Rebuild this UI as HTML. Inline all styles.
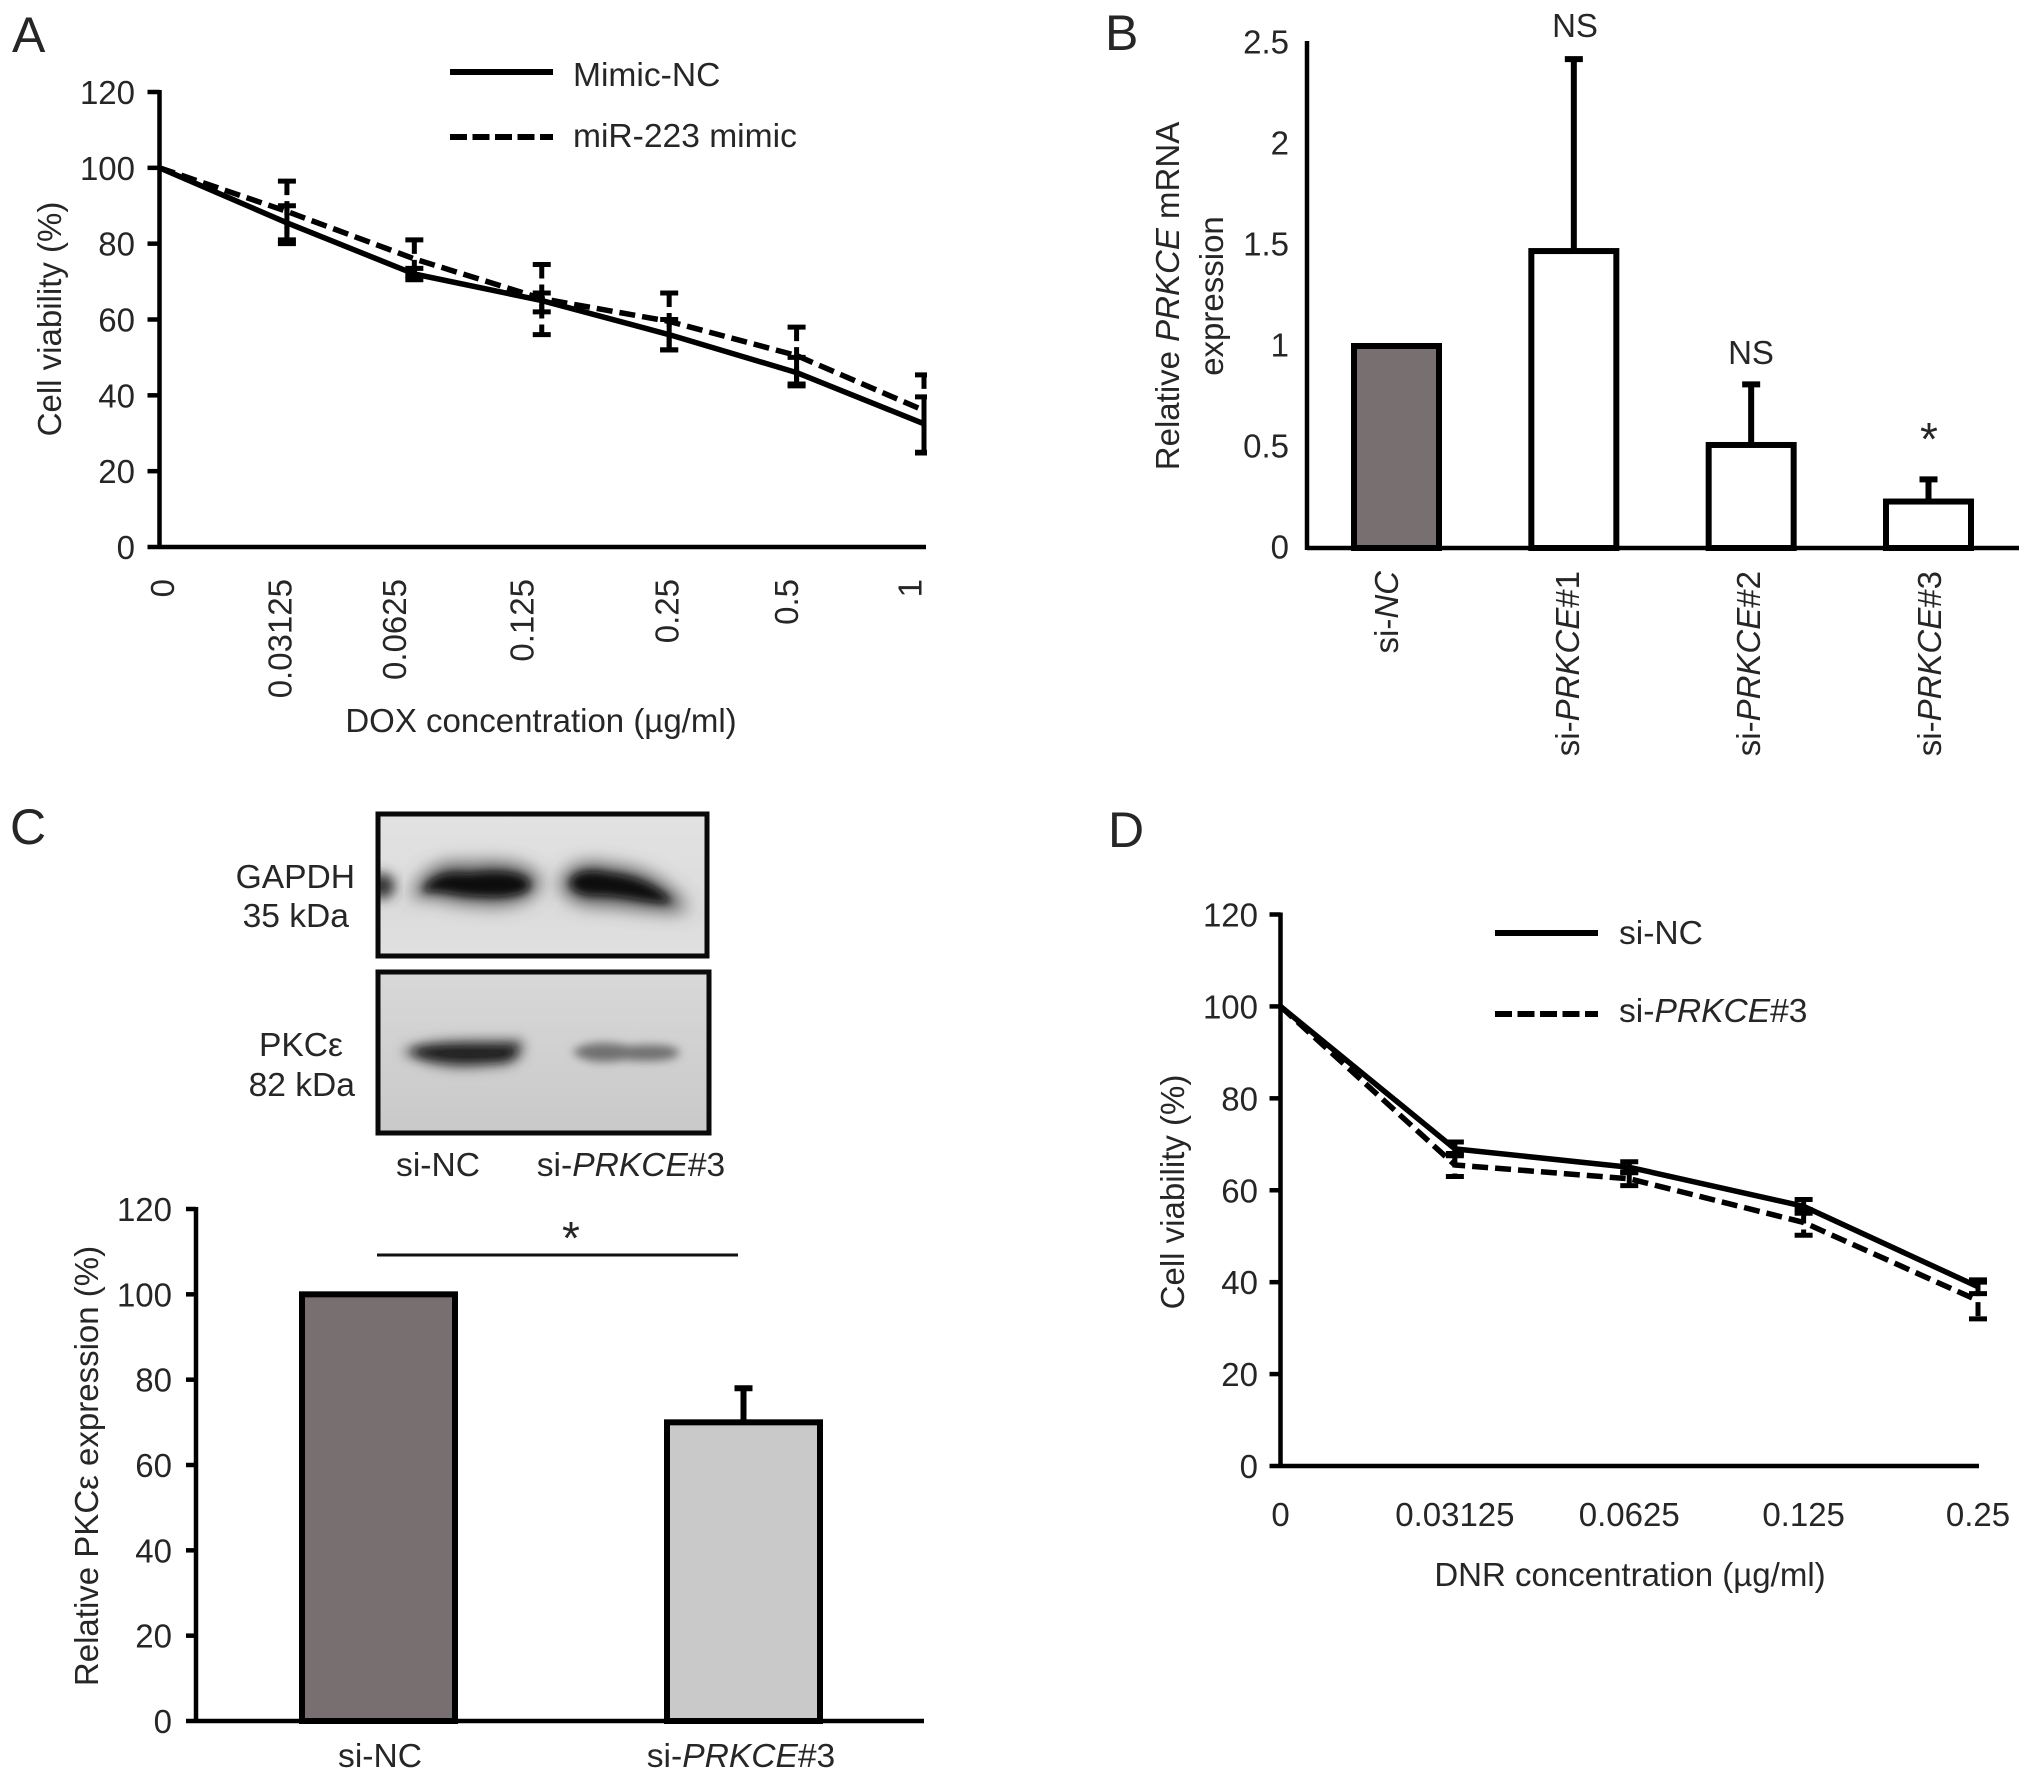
<!DOCTYPE html>
<html lang="en">
<head>
<meta charset="utf-8">
<title>Cell viability and PRKCE expression figure</title>
<style>
html,body{margin:0;padding:0;background:#fff;}
svg{display:block;}
text{font-family:"Liberation Sans",sans-serif;fill:#262626;font-size:33px;}
.letter{font-size:50px;}
.wide{font-size:33.6px;}
.star{font-size:46px;}
</style>
</head>
<body>
<svg id="figure" xmlns="http://www.w3.org/2000/svg" width="2032" height="1781" viewBox="0 0 2032 1781">
  <defs>
    <clipPath id="clip-a"><rect x="100" y="60" width="827" height="500"/></clipPath>
    <filter id="blur-a" x="-30%" y="-80%" width="160%" height="260%"><feGaussianBlur stdDeviation="6"/></filter>
    <filter id="blur-h" x="-30%" y="-100%" width="160%" height="300%"><feGaussianBlur stdDeviation="9"/></filter>
    <filter id="blur-b" x="-30%" y="-80%" width="160%" height="260%"><feGaussianBlur stdDeviation="4.5"/></filter>
    <linearGradient id="blot-top-bg" x1="0" y1="0" x2="0" y2="1"><stop offset="0" stop-color="#e2e2e2"/><stop offset="0.7" stop-color="#dcdcdc"/><stop offset="1" stop-color="#e0e0e0"/></linearGradient>
    <linearGradient id="blot-bottom-bg" x1="0" y1="0" x2="0" y2="1"><stop offset="0" stop-color="#d8d8d8"/><stop offset="1" stop-color="#c9c9c9"/></linearGradient>
    <clipPath id="clip-blot-top"><rect x="378" y="814" width="329" height="142"/></clipPath>
    <clipPath id="clip-blot-bottom"><rect x="378" y="972" width="331" height="161"/></clipPath>
  </defs>

  <text class="letter" x="12" y="52">A</text>
  <text class="letter" x="1105" y="50">B</text>
  <text class="letter" x="10" y="844">C</text>
  <text class="letter" x="1108" y="847">D</text>

  <!-- Panel A -->
  <g id="panel-a"></g>
  <text transform="translate(61,319) rotate(-90)" text-anchor="middle">Cell viability (%)</text>
  <text x="541" y="732" text-anchor="middle">DOX concentration (µg/ml)</text>
  <g>
    <line x1="450" x2="553" y1="72" y2="72" stroke="#000" stroke-width="6"/>
    <text class="wide" x="573" y="86">Mimic-NC</text>
    <line x1="450" x2="553" y1="137" y2="137" stroke="#000" stroke-width="6" stroke-dasharray="17 5.5"/>
    <text class="wide" x="573" y="147">miR-223 mimic</text>
  </g>

  <!-- Panel B -->
  <g id="panel-b"></g>
  <text transform="translate(1179,296) rotate(-90)" text-anchor="middle">Relative <tspan font-style="italic">PRKCE</tspan> mRNA</text>
  <text transform="translate(1223,296) rotate(-90)" text-anchor="middle">expression</text>
  <text x="1575" y="37" text-anchor="middle">NS</text>
  <text x="1751" y="364" text-anchor="middle">NS</text>
  <text class="star" x="1929" y="455" text-anchor="middle">*</text>

  <!-- Panel C blots -->
  <g>
    <rect x="378" y="814" width="329" height="142" fill="url(#blot-top-bg)"/>
    <g clip-path="url(#clip-blot-top)">
      <ellipse cx="382" cy="886" rx="13" ry="13" filter="url(#blur-a)" fill="#333"/>
      <path d="M410 898 C424 866 445 860 470 864 C500 860 532 864 540 880 C542 898 510 908 480 904 C450 904 430 892 410 898Z" filter="url(#blur-h)" fill="#555"/>
      <path d="M560 884 C566 862 592 860 612 866 C642 868 672 882 688 910 C660 914 630 906 600 905 C578 906 562 896 560 884Z" filter="url(#blur-h)" fill="#555"/>
      <path d="M422 892 C432 874 450 872 470 874 C498 870 524 872 530 884 C530 894 508 898 480 896 C454 896 438 888 422 892Z" filter="url(#blur-b)" fill="#080808"/>
      <path d="M570 882 C576 870 594 870 610 874 C636 876 660 888 672 902 C652 904 628 896 602 895 C584 896 572 892 570 882Z" filter="url(#blur-b)" fill="#080808"/>
    </g>
    <rect x="378" y="814" width="329" height="142" fill="none" stroke="#0a0a0a" stroke-width="5"/>
  </g>
  <g>
    <rect x="378" y="972" width="331" height="161" fill="url(#blot-bottom-bg)"/>
    <g clip-path="url(#clip-blot-bottom)">
      <path d="M402 1052 C420 1038 470 1040 522 1040 C526 1056 518 1066 490 1066 C460 1070 430 1068 402 1052Z" fill="#555" filter="url(#blur-a)"/>
      <path d="M412 1052 C425 1045 470 1047 514 1047 C516 1055 510 1060 490 1060 C460 1062 430 1060 412 1052Z" fill="#1a1a1a" filter="url(#blur-b)"/>
      <path d="M572 1052 C586 1040 610 1042 630 1046 C650 1044 674 1044 680 1052 C676 1062 650 1062 625 1060 C600 1064 584 1062 572 1052Z" fill="#707070" filter="url(#blur-b)"/>
    </g>
    <rect x="378" y="972" width="331" height="161" fill="none" stroke="#0a0a0a" stroke-width="5"/>
  </g>
  <text class="wide" x="355" y="888" text-anchor="end">GAPDH</text>
  <text class="wide" x="349" y="927" text-anchor="end">35 kDa</text>
  <text class="wide" x="343" y="1056" text-anchor="end">PKCε</text>
  <text class="wide" x="355" y="1096" text-anchor="end">82 kDa</text>
  <text class="wide" x="438" y="1176" text-anchor="middle">si-NC</text>
  <text class="wide" x="631" y="1176" text-anchor="middle">si-<tspan font-style="italic">PRKCE</tspan>#3</text>

  <!-- Panel C bars -->
  <g id="panel-c"></g>
  <text transform="translate(98,1466) rotate(-90)" text-anchor="middle">Relative PKCε expression (%)</text>
  <line x1="377" x2="738" y1="1255" y2="1255" stroke="#111" stroke-width="3"/>
  <text class="star" x="571" y="1254" text-anchor="middle">*</text>

  <!-- Panel D -->
  <g id="panel-d"></g>
  <text transform="translate(1184,1192) rotate(-90)" text-anchor="middle">Cell viability (%)</text>
  <text x="1630" y="1586" text-anchor="middle">DNR concentration (µg/ml)</text>
  <g>
    <line x1="1495" x2="1598" y1="933" y2="933" stroke="#000" stroke-width="6"/>
    <text class="wide" x="1619" y="944">si-NC</text>
    <line x1="1495" x2="1598" y1="1014" y2="1014" stroke="#000" stroke-width="6" stroke-dasharray="17 5.5"/>
    <text class="wide" x="1619" y="1022">si-<tspan font-style="italic">PRKCE</tspan>#3</text>
  </g>
</svg>
<script>
// ---- Panel A data ----
const aCategories = ['0', '0.03125', '0.0625', '0.125', '0.25', '0.5', '1'];
const aYTicks = [0, 20, 40, 60, 80, 100, 120];
const aMimicNC = [100, 85.5, 72, 65, 56, 46, 32.5];
const aMimicNCHigh = [100, 90, 73.5, 67, 60, 50, 39.6];
const aMimicNCLow = [100, 80, 70.5, 62, 52, 42.5, 24.8];
const aMir223 = [100, 88.5, 76, 65.5, 59.5, 50.5, 36];
const aMir223High = [100, 96.5, 81, 74.5, 67, 58, 45.4];
const aMir223Low = [100, 81, 71.5, 56, 52, 43, 25];

// ---- Panel B data ----
const bCategories = ['NC', 'PRKCE#1', 'PRKCE#2', 'PRKCE#3'];
const bYTicks = ['0', '0.5', '1', '1.5', '2', '2.5'];
const bValues = [1, 1.47, 0.51, 0.23];
const bErrorTop = [1, 2.42, 0.81, 0.34];

// ---- Panel C data ----
const cCategories = ['si-NC', 'PRKCE#3'];
const cYTicks = [0, 20, 40, 60, 80, 100, 120];
const cValues = [100, 70];
const cErrorTop = [100, 78];

// ---- Panel D data ----
const dCategories = ['0', '0.03125', '0.0625', '0.125', '0.25'];
const dYTicks = [0, 20, 40, 60, 80, 100, 120];
const dSiNC = [100, 69, 65, 56.5, 39];
const dSiNCHigh = [100, 70.5, 66.2, 58, 40.5];
const dSiNCLow = [100, 67.5, 63.8, 55, 37.5];
const dSiPrkce = [100, 65.5, 62.5, 53, 36];
const dSiPrkceHigh = [100, 68, 64, 55.8, 40];
const dSiPrkceLow = [100, 63, 61, 50.2, 32];

// ---- Drawing helpers ----
const SVGNS = 'http://www.w3.org/2000/svg';
const AXIS_WIDTH = 4.5;
const DASH = '16 7';

function el(tag, attrs, parent, text) {
  const node = document.createElementNS(SVGNS, tag);
  for (const key in attrs) node.setAttribute(key, attrs[key]);
  if (text !== undefined) node.textContent = text;
  parent.appendChild(node);
  return node;
}
function linearY(y0, yTop, max) {
  return function (v) { return y0 - (v / max) * (y0 - yTop); };
}
function stepX(first, last, count) {
  return function (i) { return first + i * (last - first) / (count - 1); };
}
function drawAxes(parent, xLeft, xRight, y0, yTop) {
  const yAxis = el('line', {x1: xLeft, x2: xLeft, y1: yTop - 2, y2: y0 + 2, stroke: '#000', 'stroke-width': AXIS_WIDTH}, parent);
  
  
  const xAxis = el('line', {x1: xLeft, x2: xRight, y1: y0, y2: y0, stroke: '#000', 'stroke-width': AXIS_WIDTH}, parent);
  
  
}
function drawYTicks(parent, ticks, yScale, xLeft, tickLen, labelRight, labelDy) {
  ticks.forEach(function (t) {
    const y = yScale(Number(t));
    if (tickLen > 0) {
      const mark = el('line', {x1: xLeft - tickLen, x2: xLeft, y1: y, y2: y, stroke: '#000', 'stroke-width': AXIS_WIDTH}, parent);
      
      
    }
    const label = el('text', {x: labelRight, y: y + labelDy, 'text-anchor': 'end'}, parent, String(t));
    
    
  });
}
function drawSeries(parent, name, values, high, low, xScale, yScale, dashed, clip) {
  const group = el('g', clip ? {'clip-path': clip} : {}, parent);
  
  
  values.forEach(function (v, i) {
    if (high[i] === low[i]) return;
    const x = xScale(i);
    const attrs = {fill: 'none', stroke: '#000', 'stroke-width': 5};
    const bar = el('line', Object.assign({x1: x, x2: x, y1: yScale(high[i]), y2: yScale(low[i])}, attrs, dashed ? {'stroke-dasharray': '14 6'} : {}), group);
    
    
    [high[i], low[i]].forEach(function (e) {
      const cap = el('line', Object.assign({x1: x - 9, x2: x + 9, y1: yScale(e), y2: yScale(e)}, attrs), group);
      
      
    });
  });
  const d = values.map(function (v, i) { return (i ? 'L' : 'M') + xScale(i) + ' ' + yScale(v); }).join(' ');
  const path = el('path', {d: d, fill: 'none', stroke: '#000', 'stroke-width': 5.5, 'stroke-linejoin': 'round'}, group);
  if (dashed) path.setAttribute('stroke-dasharray', DASH);
  
  
}
function drawBar(parent, xCenter, width, value, yScale, fill) {
  const top = yScale(value);
  const bar = el('rect', {x: xCenter - width / 2, y: top, width: width, height: yScale(0) - top, fill: fill, stroke: '#000', 'stroke-width': 6}, parent);
  
  
}
function drawTopError(parent, xCenter, value, top, yScale, capHalf) {
  if (top === value) return;
  const stem = el('line', {x1: xCenter, x2: xCenter, y1: yScale(top), y2: yScale(value), stroke: '#000', 'stroke-width': 6}, parent);
  
  
  const cap = el('line', {x1: xCenter - capHalf, x2: xCenter + capHalf, y1: yScale(top), y2: yScale(top), stroke: '#000', 'stroke-width': 6}, parent);
  
  
}

// ---- Panel A ----
(function () {
  const root = document.getElementById('panel-a');
  const xScale = stepX(159.5, 924, aCategories.length);
  const yScale = linearY(547, 92, 120);
  drawAxes(root, 159.5, 926, 547, 92);
  drawYTicks(root, aYTicks, yScale, 159.5, 12, 135, 12);
  drawSeries(root, 'series-mimic-nc', aMimicNC, aMimicNCHigh, aMimicNCLow, xScale, yScale, false, 'url(#clip-a)');
  drawSeries(root, 'series-mir-223-mimic', aMir223, aMir223High, aMir223Low, xScale, yScale, true, 'url(#clip-a)');
  const labelShift = {'0': 3, '0.03125': -7, '0.0625': -20, '0.125': -20, '0.25': -2, '0.5': -10, '1': -14};
  aCategories.forEach(function (c, i) {
    const x = xScale(i) + labelShift[c];
    const label = el('text', {transform: 'translate(' + (x + 11.5) + ',579) rotate(-90)', 'text-anchor': 'end'}, root, c);
    
    
  });
})();

// ---- Panel B ----
(function () {
  const root = document.getElementById('panel-b');
  const xScale = stepX(1396.5, 1928.5, bCategories.length);
  const labelX = stepX(1398, 1941, bCategories.length);
  const yScale = linearY(548, 43, 2.5);
  bValues.forEach(function (v, i) {
    drawTopError(root, xScale(i), v, bErrorTop[i], yScale, 9);
    drawBar(root, xScale(i), 85, v, yScale, i === 0 ? '#786f71' : '#fff');
  });
  drawAxes(root, 1307, 2019, 548, 43);
  drawYTicks(root, bYTicks, yScale, 1307, 0, 1289, 10.5);
  bCategories.forEach(function (c, i) {
    const label = el('text', {transform: 'translate(' + labelX(i) + ',571) rotate(-90)', 'text-anchor': 'end'}, root);
    
    
    label.appendChild(document.createTextNode('si-'));
    const match = c.match(/^([A-Z]+)(#\d)?$/);
    const ital = el('tspan', {'font-style': 'italic'}, label, match[1]);
    
    
    if (match[2]) label.appendChild(document.createTextNode(match[2]));
  });
})();

// ---- Panel C ----
(function () {
  const root = document.getElementById('panel-c');
  const xScale = stepX(378.5, 743.5, cCategories.length);
  const labelX = stepX(380, 741, cCategories.length);
  const yScale = linearY(1721, 1209, 120);
  const fills = ['#786f71', '#c9c9c9'];
  cValues.forEach(function (v, i) {
    drawTopError(root, xScale(i), v, cErrorTop[i], yScale, 9);
    drawBar(root, xScale(i), 153, v, yScale, fills[i]);
  });
  drawAxes(root, 196, 924, 1721, 1209);
  drawYTicks(root, cYTicks, yScale, 196, 10, 172, 12);
  cCategories.forEach(function (c, i) {
    const label = el('text', {x: labelX(i), y: 1767, 'text-anchor': 'middle', 'class': 'wide'}, root);
    
    
    if (c.indexOf('si-') === 0) {
      label.textContent = c;
    } else {
      label.appendChild(document.createTextNode('si-'));
      const parts = c.split('#');
      const ital = el('tspan', {'font-style': 'italic'}, label, parts[0]);
      
      
      label.appendChild(document.createTextNode('#' + parts[1]));
    }
  });
})();

// ---- Panel D ----
(function () {
  const root = document.getElementById('panel-d');
  const xScale = stepX(1280.5, 1978, dCategories.length);
  const yScale = linearY(1466, 914.5, 120);
  drawAxes(root, 1280.5, 1979, 1466, 914.5);
  drawYTicks(root, dYTicks, yScale, 1280.5, 11, 1258, 12);
  drawSeries(root, 'series-si-nc', dSiNC, dSiNCHigh, dSiNCLow, xScale, yScale, false, null);
  drawSeries(root, 'series-si-prkce-3', dSiPrkce, dSiPrkceHigh, dSiPrkceLow, xScale, yScale, true, null);
  dCategories.forEach(function (c, i) {
    const label = el('text', {x: xScale(i), y: 1526, 'text-anchor': 'middle'}, root, c);
    
    
  });
})();
</script>
</body>
</html>
